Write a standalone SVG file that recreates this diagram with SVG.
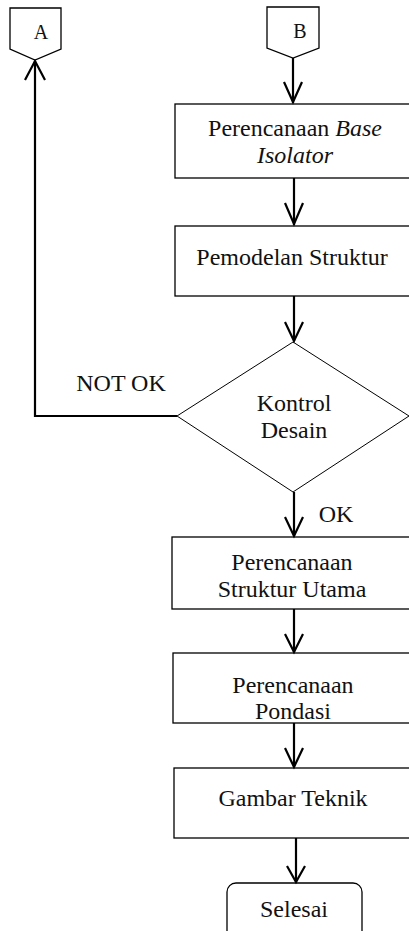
<svg xmlns="http://www.w3.org/2000/svg" width="409" height="931" viewBox="0 0 409 931" font-family="Liberation Serif, Times New Roman, serif">
<style>
.box{fill:#fff;stroke:#000;stroke-width:1.3}
text{font-family:"Liberation Serif","Times New Roman",serif;font-size:24px;fill:#111;text-anchor:middle}
.c{fill:none;stroke:#000;stroke-width:2.2}
.ah{fill:none;stroke:#000;stroke-width:2.2;stroke-linejoin:miter}
</style>
<rect width="409" height="931" fill="#fff"/>
<g id="connA">
<path class="box" d="M10,8 H61 V49 L35,60 L10,49 Z"/>
<text x="41" y="39" style="font-size:20px">A</text>
</g>
<g id="connB">
<path class="box" d="M267,7 H319 V48 L293,58 L267,48 Z"/>
<text x="300" y="38" style="font-size:20px">B</text>
</g>
<g id="n1">
<rect class="box" x="175" y="104" width="240" height="74"/>
<text x="295" y="136">Perencanaan <tspan style="font-style:italic">Base</tspan></text>
<text x="295" y="163" style="font-style:italic">Isolator</text>
</g>
<g id="n2">
<rect class="box" x="175" y="226" width="240" height="70"/>
<text x="292" y="265">Pemodelan Struktur</text>
</g>
<g id="n3">
<path class="box" d="M293,342 L409,416 L293,492 L177,416 Z" style="stroke-width:1"/>
<text x="294" y="411">Kontrol</text>
<text x="294" y="438">Desain</text>
</g>
<g id="n4">
<rect class="box" x="172" y="537" width="243" height="72"/>
<text x="292" y="570">Perencanaan</text>
<text x="292" y="597">Struktur Utama</text>
</g>
<g id="n5">
<rect class="box" x="173" y="653" width="242" height="70"/>
<text x="293" y="693">Perencanaan</text>
<text x="293" y="719">Pondasi</text>
</g>
<g id="n6">
<rect class="box" x="174" y="768" width="241" height="70"/>
<text x="293" y="806">Gambar Teknik</text>
</g>
<g id="n7">
<rect class="box" x="227" y="883" width="135" height="70" rx="9"/>
<text x="294" y="917">Selesai</text>
</g>
<g id="connectors">
<path class="c" d="M293,58 V103"/>
<path class="ah" d="M284,82 L293,102 L302,82"/>
<path class="c" d="M294,178 V225"/>
<path class="ah" d="M285,203 L294,224 L303,203"/>
<path class="c" d="M294,296 V341"/>
<path class="ah" d="M285,322 L294,341 L303,322"/>
<path class="c" d="M177,416 H35 V61"/>
<path class="ah" d="M25,80 L35,61 L45,80"/>
<path class="c" d="M294,492 V536"/>
<path class="ah" d="M285,517 L294,536 L303,517"/>
<path class="c" d="M294,609 V652"/>
<path class="ah" d="M285,634 L294,652 L303,634"/>
<path class="c" d="M294,723 V767"/>
<path class="ah" d="M285,748 L294,767 L303,748"/>
<path class="c" d="M296,838 V882"/>
<path class="ah" d="M287,866 L296,882 L305,866"/>
</g>
<text x="121" y="391">NOT OK</text>
<text x="336" y="522">OK</text>
</svg>
